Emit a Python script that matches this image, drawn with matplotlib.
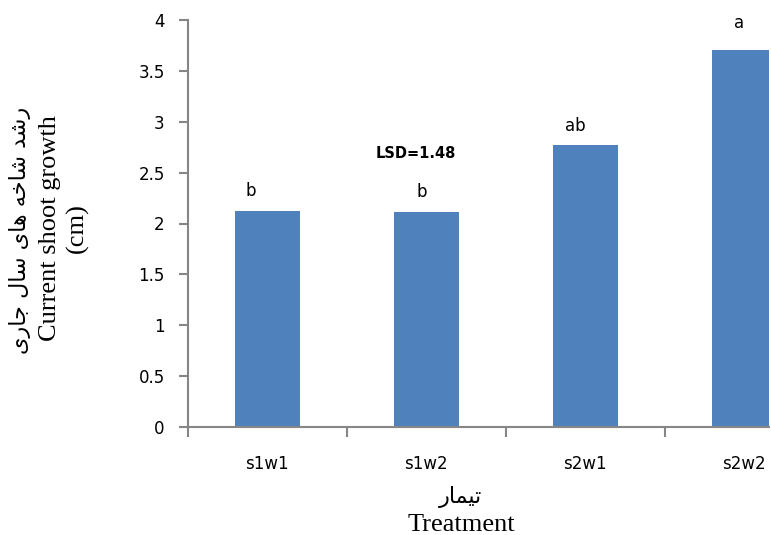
import matplotlib
matplotlib.use("Agg")
import matplotlib.pyplot as plt
from matplotlib.ticker import FixedLocator

categories = ["s1w1", "s1w2", "s2w1", "s2w2"]
values = [2.12, 2.11, 2.77, 3.71]
letters = ["b", "b", "ab", "a"]
yticks = [0, 0.5, 1, 1.5, 2, 2.5, 3, 3.5, 4]
lsd_text = "LSD=1.48"

# Persian text, shaped by hand with Arabic presentation forms (visual order)
def visual(words):
    return " ".join("".join(w) for w in words)[::-1]

fa_ylabel = visual([
    ["\uFEAD", "\uFEB7", "\uFEAA"],                    # رشد
    ["\uFEB7", "\uFE8E", "\uFEA7", "\uFEEA"],          # شاخه
    ["\uFEEB", "\uFE8E", "\uFEEF"],                    # های
    ["\uFEB3", "\uFE8E", "\uFEDD"],                    # سال
    ["\uFE9F", "\uFE8E", "\uFEAD", "\uFEEF"],          # جاری
])
fa_xlabel = visual([["\uFE97", "\uFEF4", "\uFEE4", "\uFE8E", "\uFEAD"]])  # تیمار

W, H = 771, 535
fig = plt.figure(figsize=(W / 100, H / 100), dpi=100)
ax = fig.add_axes([187.6 / W, 1 - 427 / H, (769 - 187.6) / W, (427 - 20) / H])

bar_color = "#4F81BD"
axis_color = "#868686"
x = list(range(len(categories)))
ax.bar(x, values, width=0.41, color=bar_color, zorder=2)

ax.set_xlim(-0.5, -0.5 + (769 - 187.6) / 159)
ax.set_ylim(0, 4)
ax.set_yticks(yticks)
ax.set_yticklabels([f"{t:g}" for t in yticks])
ax.set_xticks(x)
ax.set_xticklabels(categories)
ax.xaxis.set_minor_locator(FixedLocator([-0.5, 0.5, 1.5, 2.5]))

for s in ["top", "right"]:
    ax.spines[s].set_visible(False)
for s in ["left", "bottom"]:
    ax.spines[s].set_color(axis_color)
    ax.spines[s].set_linewidth(1.5)

sans = ["DejaVu Sans"]
ax.tick_params(axis="y", direction="out", length=6.5, width=1.5, color=axis_color,
               pad=10, labelsize=12)
ax.tick_params(axis="x", which="major", length=0, pad=20, labelsize=12)
ax.tick_params(axis="x", which="minor", direction="out", length=7, width=1.5,
               color=axis_color)
for lab in ax.get_xticklabels() + ax.get_yticklabels():
    lab.set_fontfamily(sans)

# significance letters
x_off = [-0.10, -0.03, -0.06, -0.03]
y_off = [0.20, 0.20, 0.19, 0.26]
for i, (v, l) in enumerate(zip(values, letters)):
    ax.text(i + x_off[i], v + y_off[i], l, ha="center", va="center",
            fontsize=12, fontfamily=sans, clip_on=False)

ax.text(0.936, 2.69, lsd_text, ha="center", va="center", fontsize=10.5,
        fontweight="bold", fontfamily=sans)

serif = ["Liberation Serif", "DejaVu Sans"]
# y-axis label (three lines)
fig.text(20 / W, 1 - 230 / H, fa_ylabel, rotation=90, ha="center", va="center",
         fontsize=16, family=["DejaVu Sans"])
fig.text(50 / W, 1 - 228 / H, "Current shoot growth", rotation=90, ha="center",
         va="center", fontsize=19, family=serif)
fig.text(77 / W, 1 - 228 / H, "(cm)", rotation=90, ha="center", va="center",
         fontsize=19, family=serif)

# x-axis label (two lines)
fig.text(461 / W, 1 - 497 / H, fa_xlabel, ha="center", va="center",
         fontsize=16, family=["DejaVu Sans"])
fig.text(461 / W, 1 - 525 / H, "Treatment", ha="center", va="center",
         fontsize=19, family=serif)

fig.savefig("out.png", dpi=100)
